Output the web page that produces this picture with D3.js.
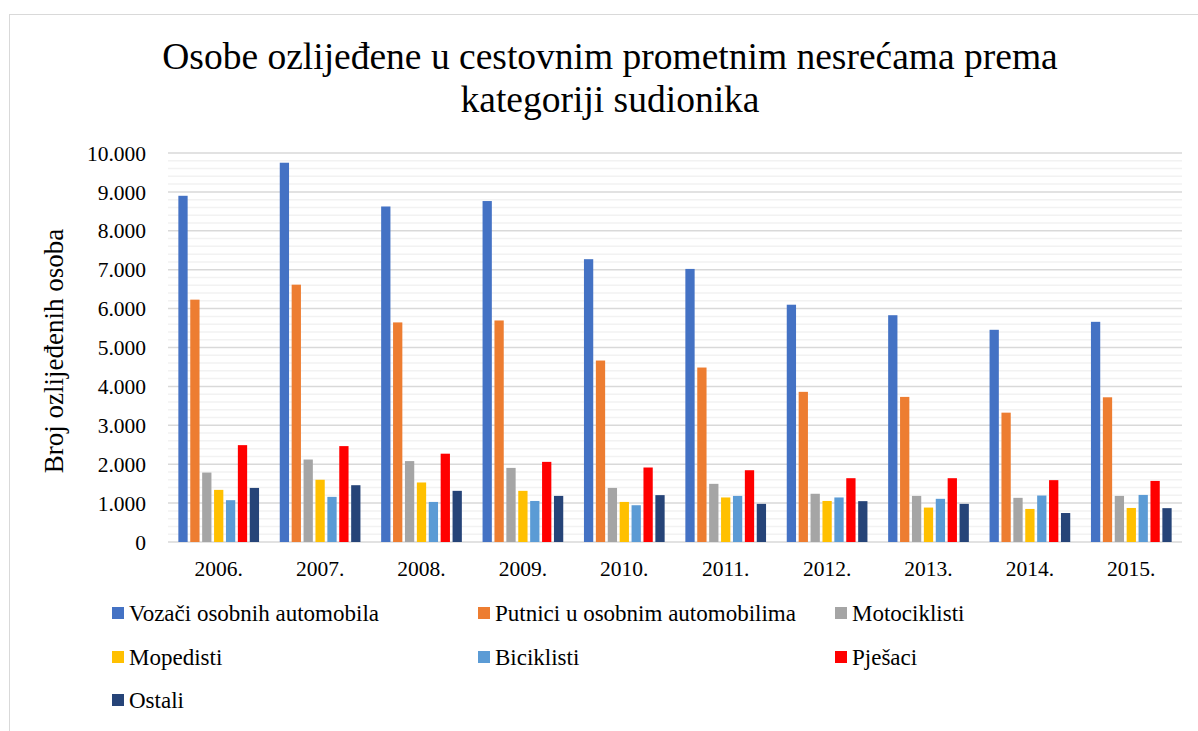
<!DOCTYPE html>
<html>
  <head>
    <meta charset="utf-8">
    <title>Osobe ozlijeđene u cestovnim prometnim nesrećama</title>
    <script src="https://cdn.jsdelivr.net/npm/d3@7/dist/d3.min.js" charset="utf-8"></script>
    <style>
      body { margin: 0; background: #fff; }
      svg { display: block; }
      svg text { font-family: "Liberation Serif", "Times New Roman", serif; fill: #000; }
    </style>
  </head>
  <body>
    <svg id="chart"></svg>
    <script>
// years on the x axis
var years = ["2006.", "2007.", "2008.", "2009.", "2010.", "2011.", "2012.", "2013.", "2014.", "2015."];

// one array per participant category
var vozaci       = [8900, 9750, 8625, 8765, 7270, 7020, 6100, 5830, 5455, 5660];
var putnici      = [6230, 6615, 5645, 5695, 4665, 4485, 3860, 3730, 3325, 3720];
var motociklisti = [1785, 2120, 2080, 1905, 1390, 1495, 1240, 1185, 1135, 1185];
var mopedisti    = [1340, 1600, 1530, 1315, 1030, 1145, 1055,  885,  850,  875];
var biciklisti   = [1075, 1160, 1030, 1055,  945, 1185, 1145, 1110, 1195, 1210];
var pjesaci      = [2490, 2465, 2270, 2060, 1915, 1845, 1640, 1640, 1590, 1570];
var ostali       = [1390, 1460, 1315, 1185, 1205,  980, 1050,  980,  745,  870];

var seriesNames = ["Vozači osobnih automobila", "Putnici u osobnim automobilima", "Motociklisti",
                   "Mopedisti", "Biciklisti", "Pješaci", "Ostali"];
var seriesColors = ["#4472C4", "#ED7D31", "#A5A5A5", "#FFC000", "#5B9BD5", "#FF0000", "#264478"];
var seriesValues = [vozaci, putnici, motociklisti, mopedisti, biciklisti, pjesaci, ostali];

var yTicks = [0, 1000, 2000, 3000, 4000, 5000, 6000, 7000, 8000, 9000, 10000];

var W = 1198, H = 731;
var plot = { left: 168, right: 1182, top: 153, bottom: 542 };
var serif = "Liberation Serif, Times New Roman, serif";

var svg = d3.select("#chart").attr("width", W).attr("height", H);

// chart frame
svg.append("rect")
    .attr("x", 9.5).attr("y", 14.5)
    .attr("width", W + 20).attr("height", H + 20)
    .attr("fill", "#fff").attr("stroke", "#d9d9d9").attr("stroke-width", 1);

// scales
var x0 = d3.scaleBand().domain(years).range([plot.left, plot.right]).padding(0);
var x1 = d3.scaleBand().domain(d3.range(seriesNames.length))
    .range([0, x0.bandwidth()]).paddingInner(0.22).paddingOuter(0.87);
var y = d3.scaleLinear().domain([0, 10000]).range([plot.bottom, plot.top]);

// minor gridlines every 200
svg.append("g").selectAll("line")
    .data(d3.range(200, 10000, 200).filter(function(v) { return v % 1000 !== 0; }))
  .enter().append("line")
    .attr("x1", plot.left).attr("x2", plot.right)
    .attr("y1", function(d) { return y(d); }).attr("y2", function(d) { return y(d); })
    .attr("stroke", "#f2f2f2").attr("stroke-width", 1.5);

// major gridlines
svg.append("g").selectAll("line")
    .data(yTicks)
  .enter().append("line")
    .attr("x1", plot.left).attr("x2", plot.right)
    .attr("y1", function(d) { return y(d); }).attr("y2", function(d) { return y(d); })
    .attr("stroke", "#d9d9d9").attr("stroke-width", 1.5);

// bars
var fmt = d3.formatLocale({ decimal: ",", thousands: ".", grouping: [3], currency: ["", ""] }).format(",");

var groups = svg.append("g").selectAll("g")
    .data(years)
  .enter().append("g")
    .attr("transform", function(d) { return "translate(" + x0(d) + ",0)"; });

groups.selectAll("rect")
    .data(function(d, i) { return seriesValues.map(function(s, k) { return { k: k, v: s[i] }; }); })
  .enter().append("rect")
    .attr("x", function(d) { return x1(d.k); })
    .attr("width", x1.bandwidth())
    .attr("y", function(d) { return y(d.v); })
    .attr("height", function(d) { return y(0) - y(d.v); })
    .attr("fill", function(d) { return seriesColors[d.k]; });

// y axis labels
var yAxis = svg.append("g")
    .attr("transform", "translate(" + (plot.left - 22) + ",0)")
    .call(d3.axisLeft(y).tickValues(yTicks).tickSize(0).tickPadding(0).tickFormat(function(d) { return fmt(d); }));
yAxis.select(".domain").remove();
yAxis.attr("font-family", serif).attr("font-size", 21.5);
yAxis.selectAll("text").attr("dy", "0.33em");

// x axis labels
var xAxis = svg.append("g")
    .attr("transform", "translate(0," + plot.bottom + ")")
    .call(d3.axisBottom(x0).tickSize(0).tickPadding(0));
xAxis.select(".domain").remove();
xAxis.attr("font-family", serif).attr("font-size", 21.5);
xAxis.selectAll("text").attr("dy", "1.6em");

// y axis title
svg.append("text")
    .attr("transform", "translate(63,351)rotate(-90)")
    .attr("text-anchor", "middle")
    .attr("font-family", serif)
    .attr("font-size", 27)
    .text("Broj ozlijeđenih osoba");

// title
var title = svg.append("text")
    .attr("text-anchor", "middle")
    .attr("font-family", serif)
    .attr("font-size", 37.5);
title.append("tspan").attr("x", 610).attr("y", 69).text("Osobe ozlijeđene u cestovnim prometnim nesrećama prema");
title.append("tspan").attr("x", 610).attr("y", 112).text("kategoriji sudionika");

// legend, three columns
var legendCols = [112, 478, 835], legendRows = [613, 657, 700];
var legend = svg.append("g").selectAll("g")
    .data(seriesNames)
  .enter().append("g")
    .attr("transform", function(d, i) {
      return "translate(" + legendCols[i % 3] + "," + legendRows[Math.floor(i / 3)] + ")";
    });
legend.append("rect")
    .attr("x", 0).attr("y", -6).attr("width", 12).attr("height", 12)
    .attr("fill", function(d, i) { return seriesColors[i]; });
legend.append("text")
    .attr("x", 17).attr("dy", "0.33em")
    .attr("font-family", serif)
    .attr("font-size", 23)
    .text(function(d) { return d; });
    </script>
  </body>
</html>
